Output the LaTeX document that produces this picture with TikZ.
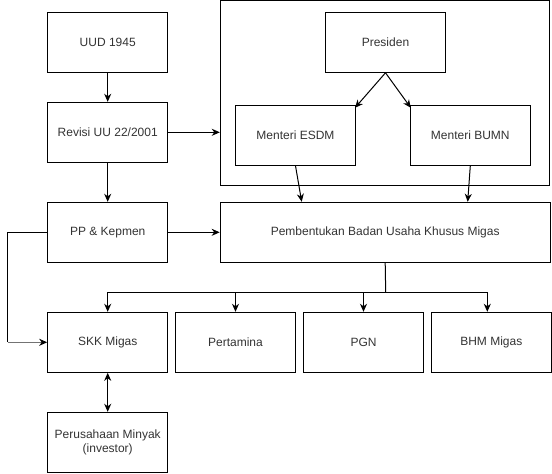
\documentclass[tikz,border=0pt]{standalone}
\usepackage{fontspec}
\setmainfont{Liberation Sans}
\usetikzlibrary{arrows.meta}
\definecolor{txt}{HTML}{333333}
\begin{document}
\begin{tikzpicture}[x=1pt,y=-1pt,
  box/.style={draw=black,line width=1pt,minimum width=120pt,minimum height=60pt,inner sep=0pt,
    text=txt,font=\fontsize{12}{14}\selectfont,align=center},
  conn/.style={line width=1pt,-{Stealth[length=8pt,width=7pt,inset=2.5pt,color=black]}},
  link/.style={line width=1pt}]
\useasboundingbox (0,0) rectangle (552,474);
\node[box,minimum width=329pt,minimum height=184.5pt] (grp) at (384.8,92.75) {};
\node[box] (uud) at (107.7,42.3) {UUD 1945};
\node[box] (rev) at (107.7,132.3) {Revisi UU 22/2001};
\node[box] (pp) at (107.7,232.3) {PP \& Kepmen};
\node[box] (skk) at (107.7,342.3) {SKK Migas};
\node[box] (pm) at (107.7,442.3) {Perusahaan Minyak\\(investor)};
\node[box] (pres) at (385.5,42.3) {Presiden};
\node[box] (esdm) at (295.5,135.3) {Menteri ESDM};
\node[box] (bumn) at (470.3,135.3) {Menteri BUMN};
\node[box,minimum width=330pt] (pbu) at (385.2,232.3) {Pembentukan Badan Usaha Khusus Migas};
\node[box] (pert) at (235.5,342.3) {Pertamina};
\node[box] (pgn) at (363.5,342.3) {PGN};
\node[box] (bhm) at (491.3,342.3) {BHM Migas};
\coordinate (bus) at (385.7,292.3);
\coordinate (lft) at (7.5,342.3);
% connectors
\draw[conn] (uud) -- (rev);
\draw[conn] (rev) -- (rev -| grp.west);
\draw[conn] (rev) -- (pp);
\draw[conn] (pp) -- (pp -| pbu.west);
\draw[conn] (pres.south) -- ([shift={(-1pt,-3pt)}]esdm.north east);
\draw[conn] (pres.south) -- ([shift={(1pt,-3pt)}]bumn.north west);
\draw[conn] (esdm.south) -- ([xshift=82pt]pbu.north west);
\draw[conn] (bumn.south) -- ([xshift=248pt]pbu.north west);
\draw[link] (pbu.south) -- (bus);
\draw[conn] (bus) -| (skk.north);
\draw[conn] (bus) -| (pert.north);
\draw[conn] (bus) -| (pgn.north);
\draw[conn] (bus) -| ([xshift=-4pt]bhm.north);
\draw[link] (pp.west) -| (lft);
\draw[conn,draw=black!55] (lft) -- (skk.west);
\draw[line width=1pt,{Stealth[length=8pt,width=7pt,inset=2.5pt]}-{Stealth[length=8pt,width=7pt,inset=2.5pt]}] (skk) -- (pm);
\end{tikzpicture}
\end{document}
